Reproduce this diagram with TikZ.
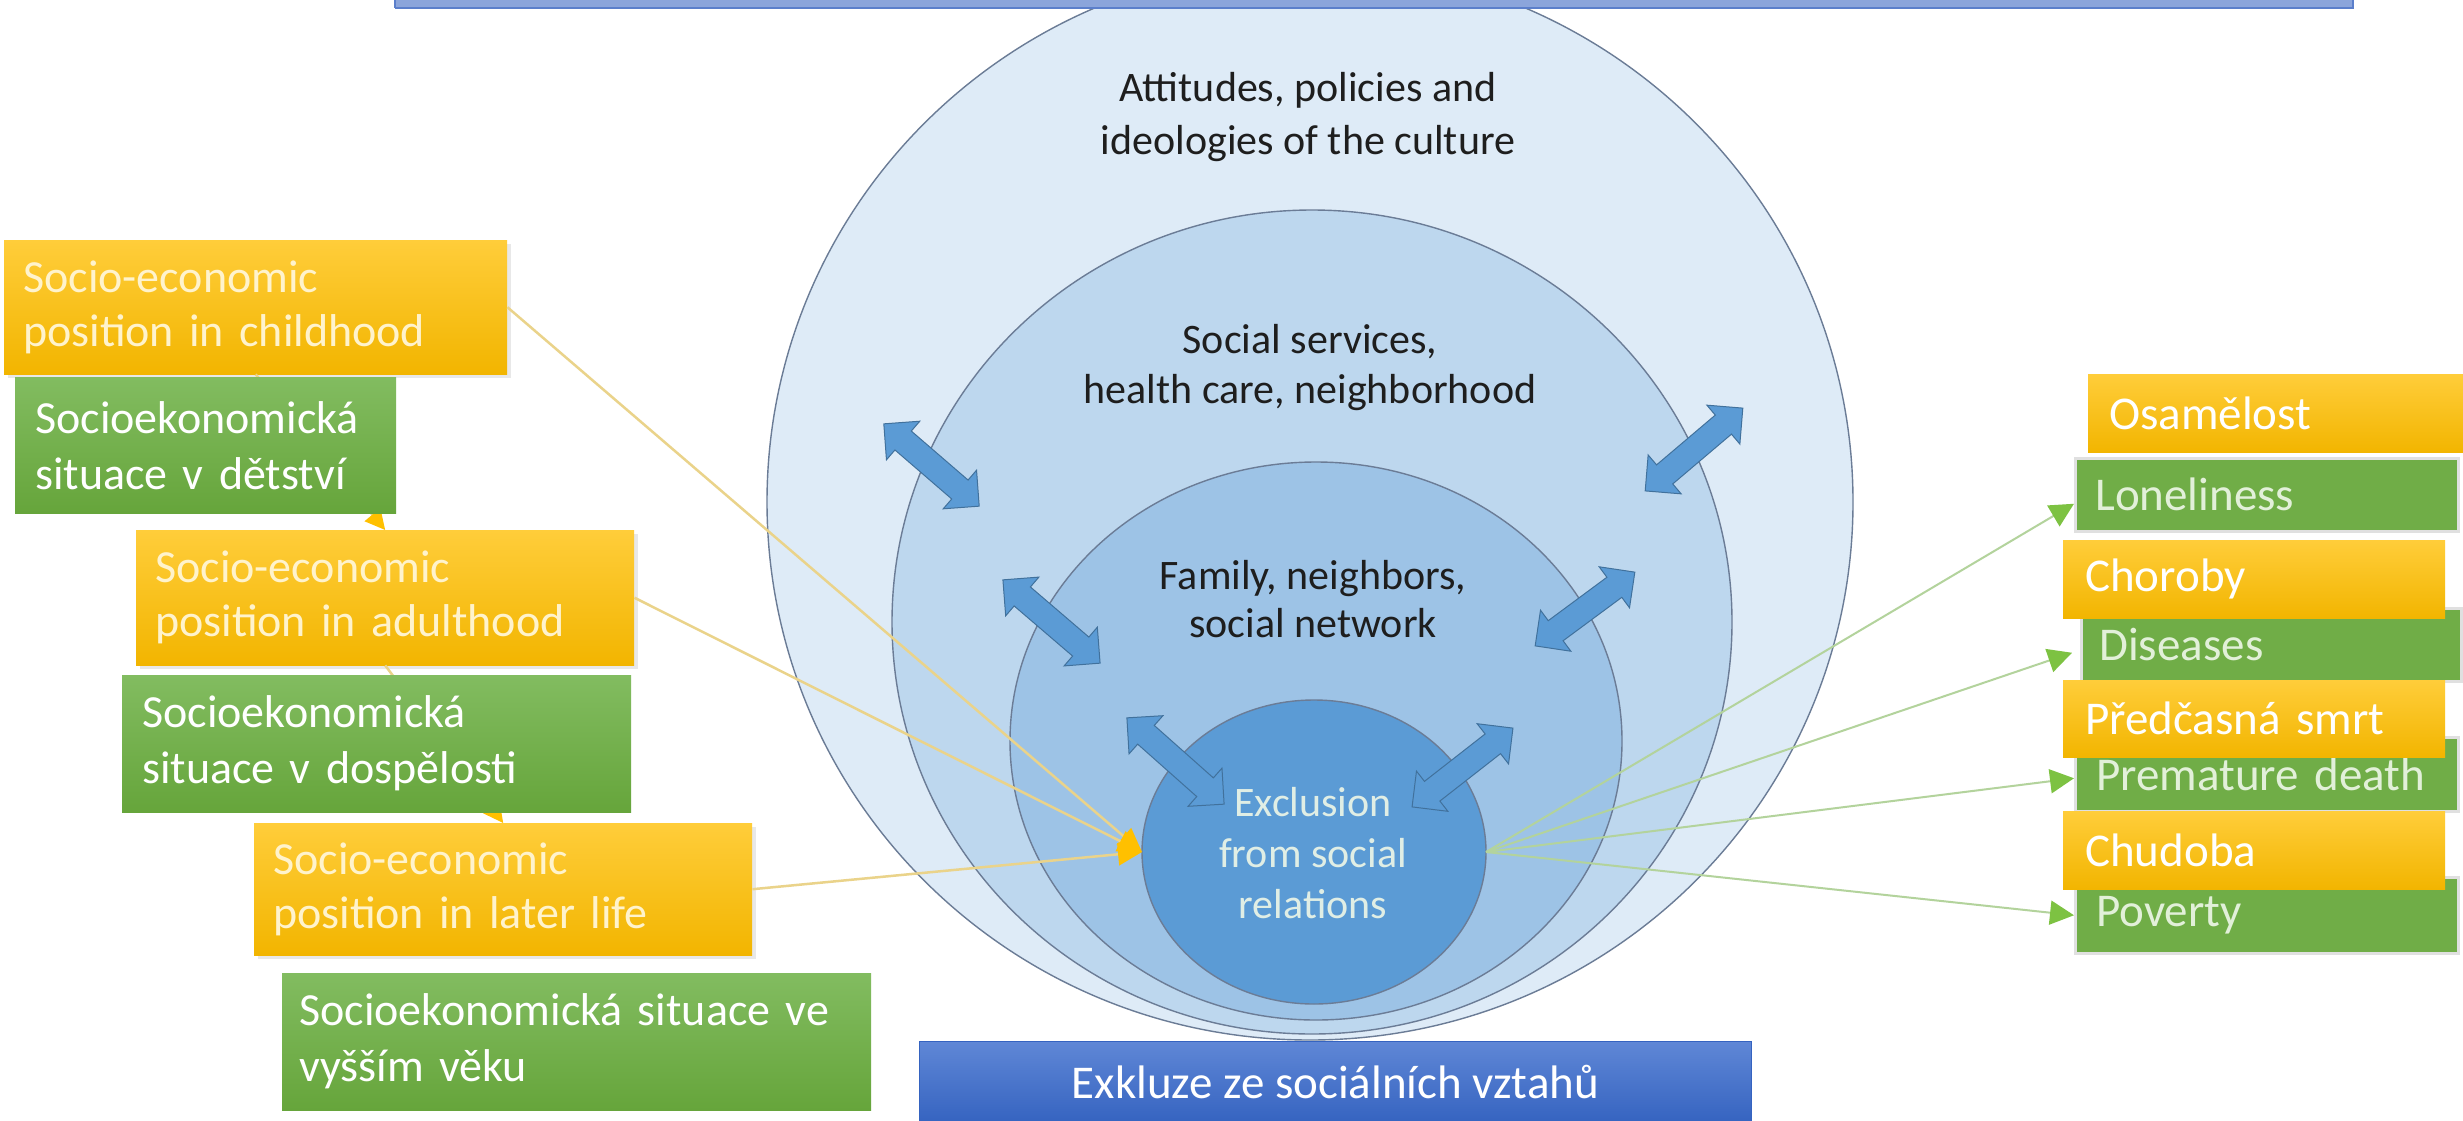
\documentclass[tikz,border=0pt]{standalone}
\usepackage{fontspec}
\setmainfont{Carlito}
\usetikzlibrary{shapes.geometric,shapes.arrows,arrows.meta,shadows}
\definecolor{barfill}{HTML}{8BA5DB}
\definecolor{barline}{HTML}{5B7FCB}
\definecolor{cone}{HTML}{DEEBF7}
\definecolor{ctwo}{HTML}{BDD7EE}
\definecolor{cthree}{HTML}{9DC3E6}
\definecolor{cfour}{HTML}{5B9BD5}
\definecolor{cline}{HTML}{6B7C96}
\definecolor{arrfill}{HTML}{5B9BD5}
\definecolor{arrline}{HTML}{41719C}
\definecolor{orT}{HTML}{FFCD3A}
\definecolor{orB}{HTML}{F2B500}
\definecolor{grT}{HTML}{82BC60}
\definecolor{grB}{HTML}{66A53B}
\definecolor{grR}{HTML}{70AD47}
\definecolor{oline}{HTML}{EAD38A}
\definecolor{gline}{HTML}{B3D39C}
\definecolor{gtip}{HTML}{7DC242}
\definecolor{otip}{HTML}{FFC000}
\definecolor{paleg}{HTML}{E2F0D9}
\definecolor{paley}{HTML}{FFF3CC}
\definecolor{botT}{HTML}{5F87D6}
\definecolor{botB}{HTML}{3563C0}
\definecolor{ctxt}{HTML}{1E1E1E}
\tikzset{
  ring/.style={ellipse, draw=cline, line width=1.4pt, inner sep=0pt, outer sep=0pt},
  ctext/.style={align=center, text=ctxt, inner sep=0pt, font=\fontsize{42}{53}\selectfont},
  dblarr/.style={double arrow, fill=arrfill, draw=arrline, line width=1pt, inner xsep=0pt,
    inner ysep=12pt, double arrow head extend=13pt, double arrow tip angle=90, minimum height=#1},
  obox/.style={rectangle, top color=orT, bottom color=orB, inner ysep=0pt, inner xsep=19pt,
    anchor=north west, align=left, text=paley, font=\fontsize{46}{54}\selectfont,
    drop shadow={shadow xshift=4pt, shadow yshift=-4pt, opacity=0.18}},
  gbox/.style={rectangle, top color=grT, bottom color=grB, inner ysep=0pt, inner xsep=20pt,
    anchor=north west, align=left, text=white, font=\fontsize{46}{56}\selectfont},
  robox/.style={rectangle, top color=orT, bottom color=orB, inner ysep=0pt, inner xsep=21pt,
    anchor=north west, align=left, text=white, font=\fontsize{47}{54}\selectfont},
  rgbox/.style={rectangle, fill=grR, draw=black!12, line width=2.5pt, inner ysep=0pt, inner xsep=20pt,
    anchor=north west, align=left, text=paleg, font=\fontsize{47}{54}\selectfont},
  oconn/.style={draw=oline, line width=2.5pt, -{Triangle[length=24pt,width=22pt,color=otip]}},
  sconn/.style={draw=oline, line width=2.5pt, -{Triangle[length=20pt,width=20pt,color=otip]}},
  gconn/.style={draw=gline, line width=2pt, -{Triangle[length=24pt,width=24pt,color=gtip]}},
}
\begin{document}
\begin{tikzpicture}[x=1pt,y=-1pt]
\useasboundingbox (0,0) rectangle (2463,1120);
\clip (0,0) rectangle (2463,1120);
\fill[white] (0,0) rectangle (2463,1120);

% nested circles
\node[ring, fill=cone, minimum width=1086pt, minimum height=1076pt] (outer) at (1310,502) {};
\node[ring, fill=ctwo, minimum width=840pt, minimum height=824pt] (serv) at (1312,622) {};
\node[ring, fill=cthree, minimum width=612pt, minimum height=558pt] (fam) at (1316,741) {};
\node[ring, fill=cfour, minimum width=344pt, minimum height=304pt] (excl) at (1314,852) {};

% top bar
\fill[barfill] (395,-5) rectangle (2353,8);
\draw[barline, line width=2pt] (395,8) -- (2353,8) -- (2353,-5);
\draw[barline, line width=1.5pt] (395,-5) -- (395,8);

% left boxes
\node[obox, minimum width=503pt, minimum height=134pt, text width=465pt] (child) at (4,240)
  {Socio-economic\\position in childhood};
\node[obox, minimum width=498pt, minimum height=135pt, text width=460pt] (adult) at (136,530)
  {Socio-economic\\position in adulthood};
\node[obox, minimum width=498pt, minimum height=132pt, text width=460pt] (later) at (254,823)
  {Socio-economic\\position in later life};

% connectors between left boxes (mostly hidden)
\draw[sconn] (child.south) -- (adult.north);
\draw[sconn] (adult.south) -- (later.north);

\node[gbox, minimum width=381pt, minimum height=136pt, text width=341pt] (dets) at (15,377)
  {Socioekonomická\\situace v dětství};
\node[gbox, minimum width=509pt, minimum height=137pt, text width=469pt] (dosp) at (122,675)
  {Socioekonomická\\situace v dospělosti};
\node[gbox, minimum width=589pt, minimum height=137pt, text width=555pt, inner xsep=17pt] (vys) at (282,973)
  {Socioekonomická situace ve\\vyšším věku};

% right boxes
\node[robox, minimum width=392pt, minimum height=78pt, text width=350pt] (osam) at (2088,374) {Osamělost};
\node[rgbox, minimum width=383pt, minimum height=73pt, text width=343pt] (lone) at (2074,457) {Loneliness};
\node[rgbox, minimum width=380pt, minimum height=73pt, text width=344pt, inner xsep=18pt] (dis) at (2080,607) {Diseases};
\node[robox, minimum width=382pt, minimum height=78pt, text width=338pt, inner xsep=22pt] (chor) at (2063,540) {Choroby};
\node[rgbox, minimum width=383pt, minimum height=74pt, text width=341pt, inner xsep=21pt] (prem) at (2074,736) {Premature death};
\node[robox, minimum width=382pt, minimum height=77pt, text width=338pt, inner xsep=22pt] (pred) at (2063,680) {Předčasná smrt};
\node[rgbox, minimum width=383pt, minimum height=76pt, text width=341pt, inner xsep=21pt] (pov) at (2074,876) {Poverty};
\node[robox, minimum width=382pt, minimum height=78pt, text width=338pt, inner xsep=22pt] (chud) at (2063,811) {Chudoba};

% connectors into the exclusion circle
\draw[oconn] (child.east) -- (excl.west);
\draw[oconn] (adult.east) -- (excl.west);
\draw[oconn] (later.east) -- (excl.west);

% connectors out of the exclusion circle
\draw[gconn] (excl.east) -- ([yshift=-9pt]lone.west);
\draw[gconn] (excl.east) -- ([yshift=-8pt,xshift=-8pt]dis.west);
\draw[gconn] (excl.east) -- ([yshift=-4pt]prem.west);
\draw[gconn] (excl.east) -- (pov.west);

% double arrows
\node[dblarr=126pt, rotate=-40.8] (a1) at (931.5,465) {};
\node[dblarr=128pt, rotate=40.3] (a2) at (1694,449.5) {};
\node[dblarr=128pt, rotate=-40.6] (a3) at (1051.5,621.5) {};
\node[dblarr=124pt, rotate=36.5] (a4) at (1585,609) {};
\node[dblarr=130pt, rotate=-41.6] (a5) at (1175.5,761) {};
\node[dblarr=128pt, rotate=38] (a6) at (1462.5,767.5) {};

% circle labels
\node[ctext] (tatt) at (1308,117) {Attitudes, policies and\\ideologies of the culture};
\node[ctext, font=\fontsize{42}{50}\selectfont] (tserv) at (1310,368) {Social services,\\health care, neighborhood};
\node[ctext, font=\fontsize{42}{48}\selectfont] (tfam) at (1313,599) {Family, neighbors,\\social network};
\node[ctext, text=paleg!60!cone, font=\fontsize{42}{51}\selectfont] (texcl) at (1313,853) {Exclusion\\from social\\relations};

% bottom bar
\node[rectangle, top color=botT, bottom color=botB, draw=botB, line width=1pt, anchor=north west,
  minimum width=832pt, minimum height=82pt, inner sep=0pt, text=white,
  font=\fontsize{47}{55}\selectfont] (bottom) at (919,1041) {Exkluze ze sociálních vztahů};
\end{tikzpicture}
\end{document}
